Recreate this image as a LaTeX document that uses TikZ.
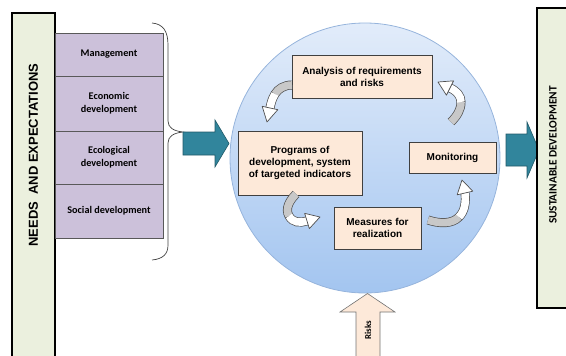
\documentclass[tikz,border=0pt]{standalone}
\usepackage{fontspec}
\setmainfont{Liberation Serif}
\newfontfamily\calfont{Carlito}
\newfontfamily\arialfont{Liberation Sans}
\usetikzlibrary{calc}

\definecolor{sidegreen}{HTML}{EBF0DE}
\definecolor{lavender}{HTML}{CCC1DA}
\definecolor{peach}{HTML}{FDE9D9}
\definecolor{tealfill}{HTML}{31859C}
\definecolor{tealline}{HTML}{215968}
\definecolor{disctop}{RGB}{226,236,250}
\definecolor{discbottom}{RGB}{163,197,240}
\definecolor{discline}{RGB}{150,180,220}
\definecolor{bandline}{RGB}{80,80,80}
\definecolor{bandgray}{RGB}{200,200,200}

% curved cycle arrow: gray tail segment, white head segment, open head
% #1 tail, #2 #3 controls, #4 middle, #5 #6 controls, #7 head base, #8 tip
\newcommand\turnarrow[8]{%
  \draw[line width=9, draw=bandline] (#1) .. controls (#2) and (#3) .. (#4)
        .. controls (#5) and (#6) .. (#7);
  \draw[line width=7.6, draw=bandgray] (#1) .. controls (#2) and (#3) .. (#4);
  \draw[line width=7.6, draw=white] (#4) .. controls (#5) and (#6) .. (#7);
  \filldraw[fill=white, draw=bandline, line width=0.7, line join=round]
        (#8) -- ($(#7)!8pt!90:(#8)$) -- ($(#7)!8pt!-90:(#8)$) -- cycle;
}

\begin{document}
\begin{tikzpicture}[x=1pt, y=-1pt,
  sidebox/.style={draw=black, fill=sidegreen, line width=1.1, inner sep=0},
  aspect/.style={draw=black!65, fill=lavender, line width=0.6, inner sep=0,
    minimum width=108, align=center,
    font=\calfont\bfseries\fontsize{10.2}{13}\selectfont},
  stage/.style={draw=black!75, fill=peach, line width=0.8, inner sep=0,
    align=center, font=\arialfont\bfseries\fontsize{10}{12}\selectfont},
  flowarrow/.style={fill=tealfill, draw=tealline, line width=0.6, line join=miter},
  riskarrow/.style={fill=peach, draw=black!55, line width=0.6},
]
\useasboundingbox (0,0) rectangle (566,356);
\begin{scope}
\clip (0,0) rectangle (566,356);

% left column: needs and expectations
\node[sidebox, minimum width=43, minimum height=360] (needs) at (33.5,193) {};
\node[rotate=90, font=\arialfont\bfseries\fontsize{13}{15}\selectfont] (needstext)
  at (33.5,155) {NEEDS\ \ AND EXPECTATIONS};

\node[aspect, minimum height=43] (mgmt) at (109,54.5) {Management};
\node[aspect, minimum height=55] (econ) at (109,103.5) {Economic\\development};
\node[aspect, minimum height=53] (ecol) at (109,157.5) {Ecological\\development};
\node[aspect, minimum height=54] (soc)  at (109,211) {Social development};

% brace gathering the four aspects
\coordinate (bracetop) at (152,23);
\coordinate (bracetip) at (183,132);
\coordinate (bracebot) at (152,260);
\draw[black!75, line width=0.7]
  (bracetop) .. controls (163,24) and (168,31) .. (168,45) -- (168,121)
  .. controls (168,128) and (174,131) .. (bracetip)
  .. controls (174,133) and (168,136) .. (168,143) -- (168,245)
  .. controls (168,254) and (163,259) .. (bracebot);

% central cycle
\node[circle, minimum size=270, inner sep=0, draw=discline, line width=0.8,
      top color=disctop, bottom color=discbottom] (disc) at (365,158) {};

\node[stage, minimum width=140, minimum height=43] (analysis) at (362,76.5)
  {Analysis of requirements\\and risks};
\node[stage, minimum width=124, minimum height=64] (programs) at (300,163)
  {Programs of\\development, system\\of targeted indicators};
\node[stage, minimum width=87, minimum height=31] (monitor) at (452.5,157.5)
  {Monitoring};
\node[stage, minimum width=87, minimum height=42] (measures) at (377.5,228)
  {Measures for\\realization};

\turnarrow{292,85}{284,85}{278,89}{275,94}{272,99}{271,103}{270,108}{267,122}
\turnarrow{451,122}{457,116}{461,110}{461,102}{461,96}{457,91}{450,88}{438,82}
\turnarrow{296,194}{289,201}{285,209}{289,216}{293,223}{300,223}{307,221}{320,217}
\turnarrow{428,220}{440,224}{452,224}{459,217}{465,211}{466,202}{465,193}{462,180}

% inflow and outflow arrows
\draw[flowarrow] (183,132) -- (215,132) -- (215,120) -- (229,143.5)
  -- (215,167) -- (215,155) -- (183,155) -- cycle;
\draw[flowarrow] (506,134) -- (527,134) -- (527,122) -- (539,150)
  -- (527,178) -- (527,166) -- (506,166) -- cycle;

% right column: sustainable development
\node[sidebox, minimum width=36, minimum height=300] (sustain) at (555,158) {};
\node[rotate=90, font=\calfont\bfseries\fontsize{11.3}{13}\selectfont] (sustaintext)
  at (553,155) {SUSTAINABLE DEVELOPMENT};

% risks entering from below
\draw[riskarrow] (356,362) -- (356,312) -- (340,312) -- (367.5,293.5)
  -- (395,312) -- (380,312) -- (380,362) -- cycle;
\node[rotate=90, font=\calfont\bfseries\fontsize{9}{10}\selectfont] (risks)
  at (368,330) {Risks};
\end{scope}
\end{tikzpicture}
\end{document}
